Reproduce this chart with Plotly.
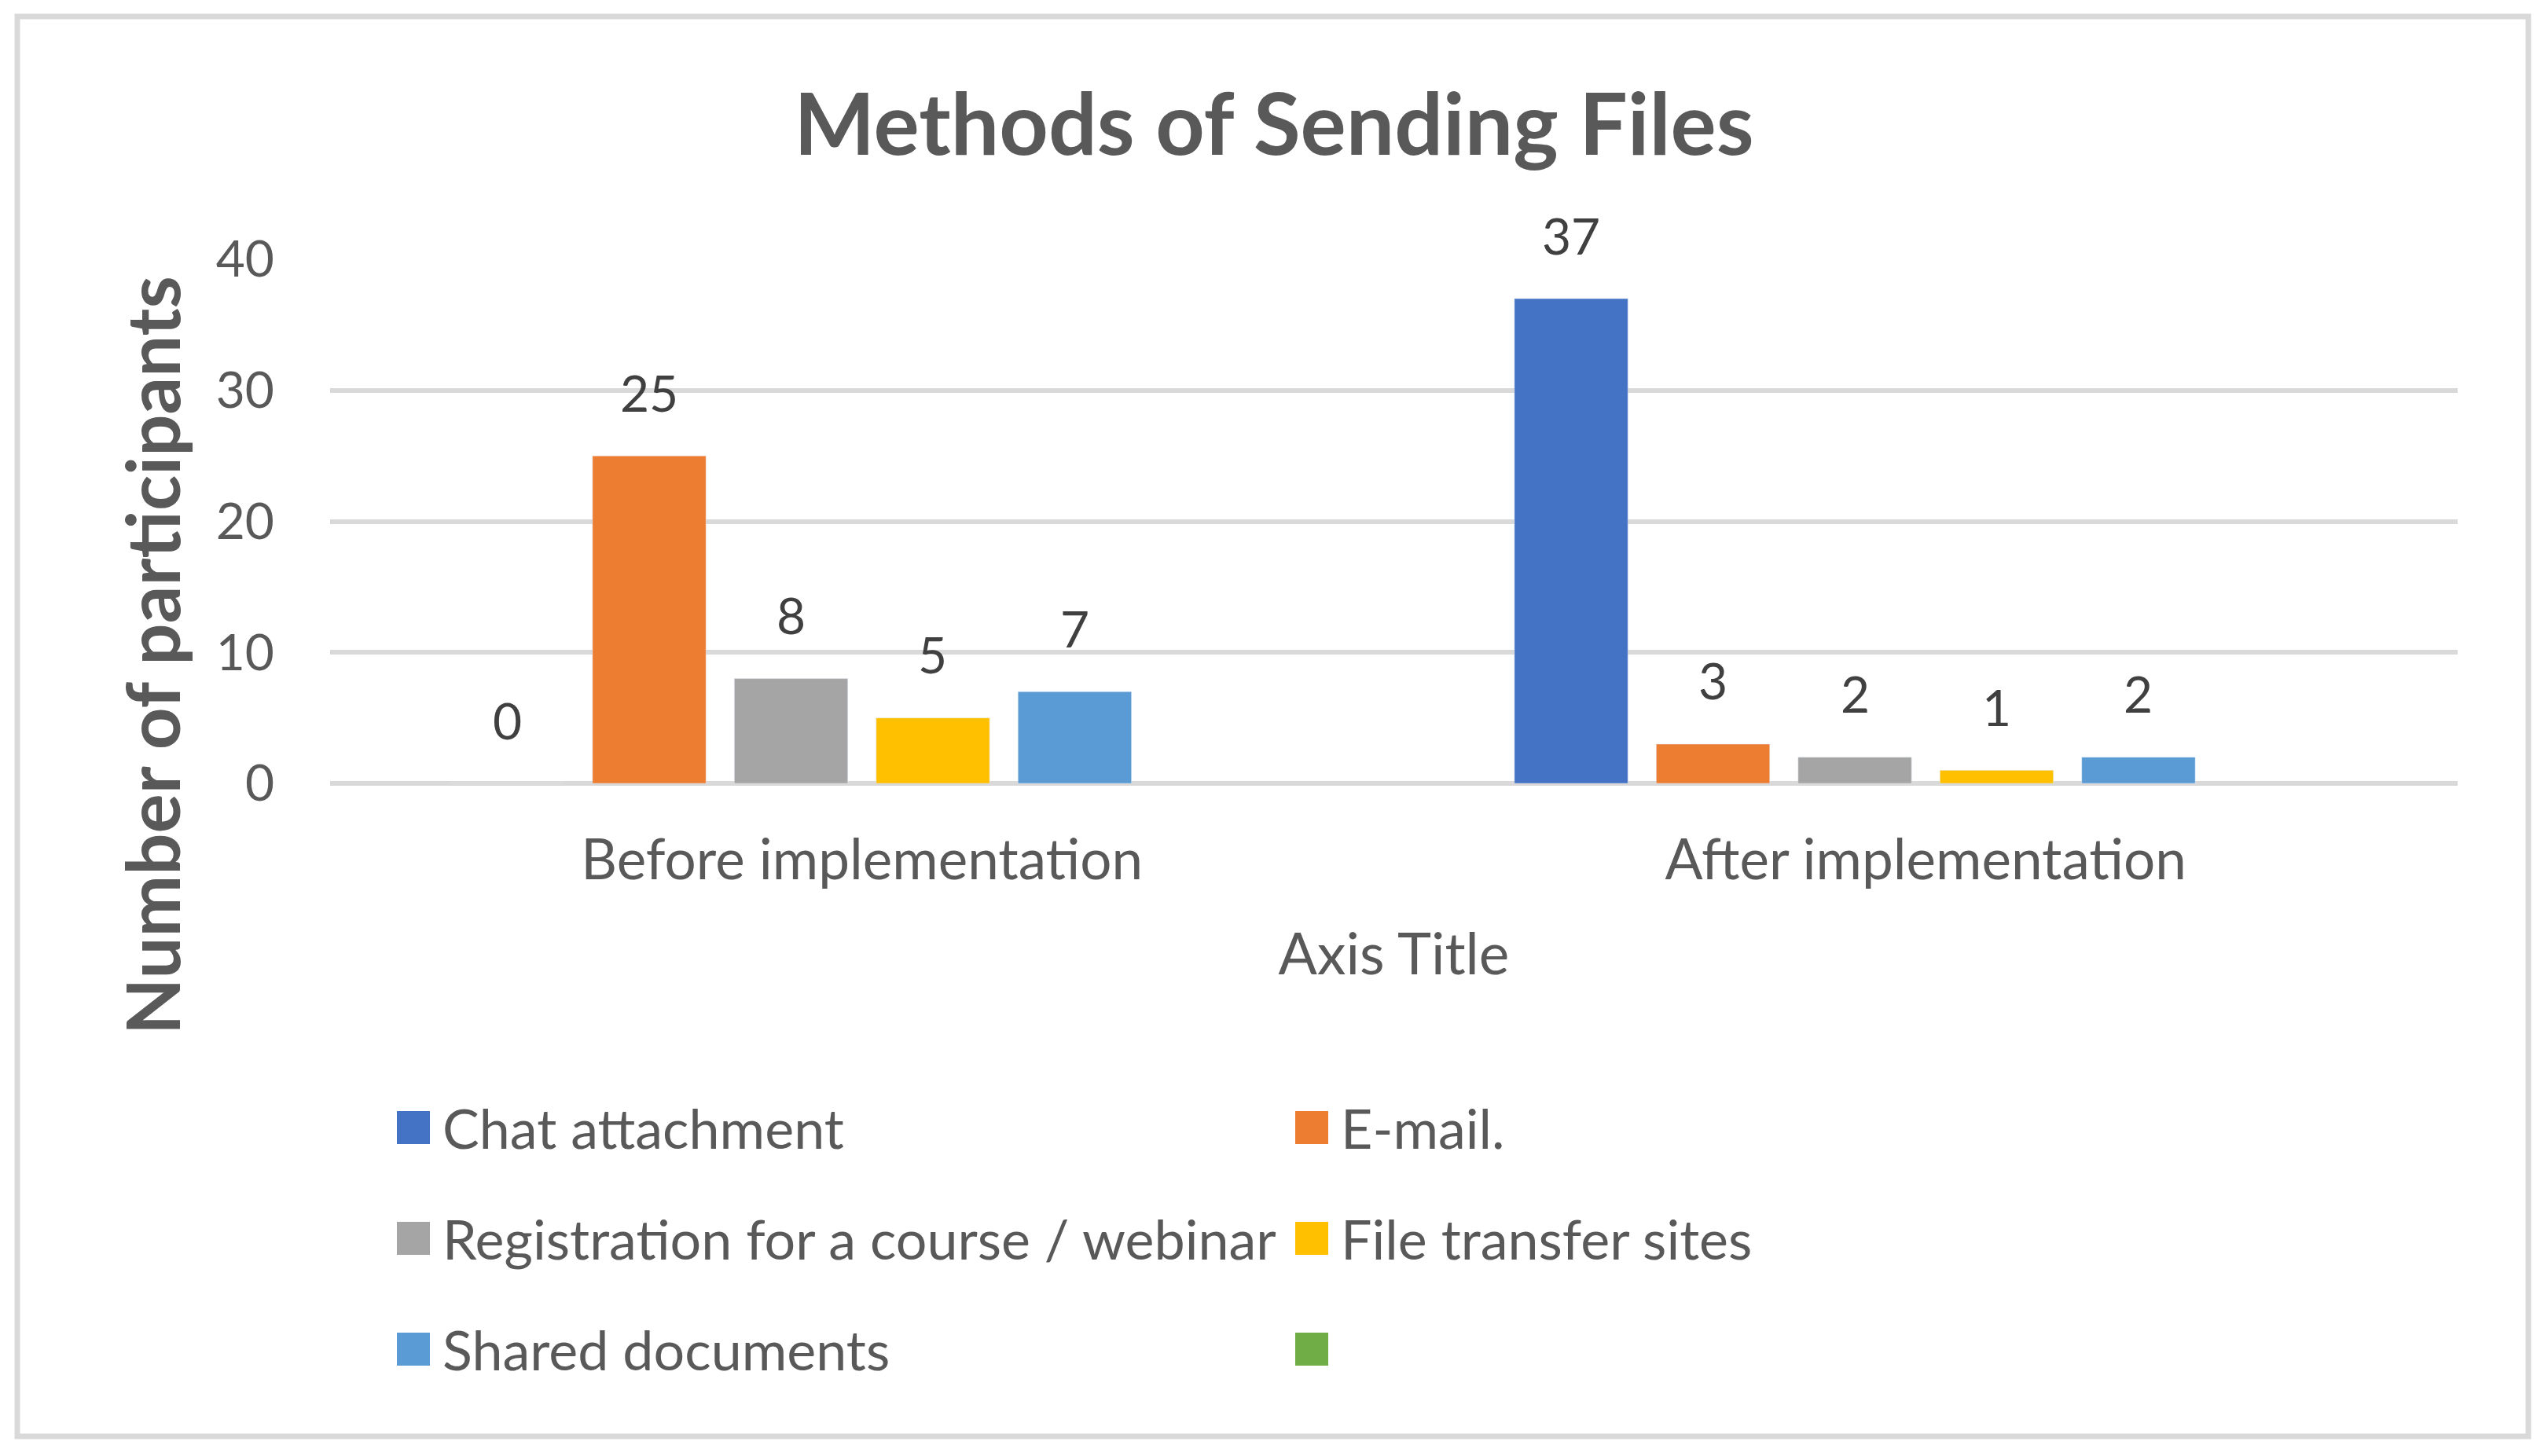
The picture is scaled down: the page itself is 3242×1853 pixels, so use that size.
import plotly.graph_objects as go

categories = ["Before implementation", "After implementation"]
series_names = ["Chat attachment", "E-mail.", "Registration for a course / webinar",
                "File transfer sites", "Shared documents", ""]
chat_attachment = [0, 37]
e_mail = [25, 3]
registration = [8, 2]
file_transfer = [5, 1]
shared_documents = [7, 2]
unnamed = [None, None]
series_values = [chat_attachment, e_mail, registration, file_transfer, shared_documents, unnamed]

colors = ["#4472C4", "#ED7D31", "#A5A5A5", "#FFC000", "#5B9BD5", "#70AD47"]

OFF = 8  # page body margin
W, H = 3242 - 2 * OFF, 1853 - 2 * OFF
L, R, T, B = 412, 107, 322, 848
PW, PH = W - L - R, H - T - B
FONT = "Lato, 'Open Sans', sans-serif"
TXT = "#595959"
GRID = "#D9D9D9"
BARGAP, GROUPGAP = 0.2, 0.2


def px_x(p):  # page pixel -> paper x
    return (p - OFF - L) / PW


def px_y(p):  # page pixel -> paper y
    return (H - B - (p - OFF)) / PH


fig = go.Figure()
for name, vals, col in zip(series_names, series_values, colors):
    fig.add_trace(go.Bar(x=categories, y=vals, name=name, marker_color=col,
                         showlegend=False))

# data labels sit well above the bars, like the Excel original
slot = PW / len(categories) * (1 - BARGAP) / len(series_values)
annotations = []
for i, vals in enumerate(series_values):
    for cat, v in zip(categories, vals):
        if v is None:
            continue
        annotations.append(dict(x=cat, y=v, text=str(v), showarrow=False,
                                xshift=(i - (len(series_values) - 1) / 2) * slot, yshift=81,
                                yanchor="middle", font=dict(size=64, color="#404040")))

# y-axis title (sits lower than the plot centre)
annotations.append(dict(xref="paper", yref="paper", x=px_x(192), y=px_y(834),
                        text="<b>Number of participants</b>", textangle=-90, showarrow=False,
                        xanchor="center", yanchor="middle", font=dict(size=94, color=TXT)))

# legend, two columns with big square swatches
shapes = []
rows = [1435, 1576, 1717]
cols = [505, 1648]
sw = 42
for k, (name, col) in enumerate(zip(series_names, colors)):
    rx, ry = cols[k % 2], rows[k // 2]
    shapes.append(dict(type="rect", xref="paper", yref="paper",
                       x0=px_x(rx), x1=px_x(rx + sw), y0=px_y(ry + sw / 2), y1=px_y(ry - sw / 2),
                       fillcolor=col, line_width=0))
    if name:
        annotations.append(dict(xref="paper", yref="paper", x=px_x(rx + 56), y=px_y(ry),
                                text=name, showarrow=False, xanchor="left", yanchor="middle",
                                font=dict(size=70, color=TXT)))

# chart border
shapes.append(dict(type="rect", xref="paper", yref="paper", layer="below",
                   x0=px_x(22), x1=px_x(3217), y0=px_y(1828), y1=px_y(21),
                   line=dict(color=GRID, width=7), fillcolor="rgba(0,0,0,0)"))

fig.update_layout(
    width=W, height=H,
    margin=dict(l=L, r=R, t=T, b=B),
    paper_bgcolor="white", plot_bgcolor="white",
    font=dict(family=FONT, color=TXT),
    barmode="group", bargap=BARGAP, bargroupgap=GROUPGAP,
    title=dict(text="<b>Methods of Sending Files</b>", x=0.5, xref="container",
               y=1 - (159 - OFF) / H, yref="container", xanchor="center", yanchor="middle",
               font=dict(size=109, color=TXT)),
    annotations=annotations,
    shapes=shapes,
)
fig.update_xaxes(showgrid=False, showline=False, tickfont=dict(size=71, color=TXT),
                 ticklabelstandoff=50,
                 title=dict(text="Axis Title", standoff=55, font=dict(size=73, color=TXT)))
fig.update_yaxes(range=[0, 40], dtick=10, showgrid=True, gridcolor=GRID, gridwidth=6,
                 zeroline=True, zerolinecolor=GRID, zerolinewidth=6, showline=False,
                 tickfont=dict(size=64, color=TXT), ticklabelstandoff=70)

fig.write_html("out.html")
